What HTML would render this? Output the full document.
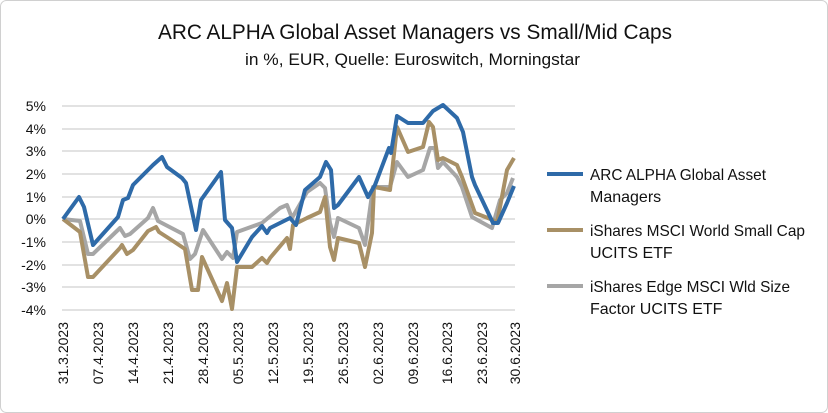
<!DOCTYPE html>
<html><head><meta charset="utf-8"><style>
body{margin:0;background:#fff}
svg{display:block;font-family:"Liberation Sans",sans-serif}
</style></head><body>
<svg width="828" height="413" viewBox="0 0 828 413">
<rect x="0.5" y="0.5" width="827" height="412" rx="6" fill="#fff" stroke="#d0d0d0"/>
<text x="158" y="39" font-size="21" fill="#111" textLength="514" lengthAdjust="spacingAndGlyphs">ARC ALPHA Global Asset Managers vs Small/Mid Caps</text>
<text x="245" y="65" font-size="17" fill="#111" textLength="335" lengthAdjust="spacingAndGlyphs">in %, EUR, Quelle: Euroswitch, Morningstar</text>
<g stroke="#d9d9d9" stroke-width="1.5">
<line x1="62" x2="515" y1="106" y2="106"/><line x1="62" x2="515" y1="129" y2="129"/>
<line x1="62" x2="515" y1="151" y2="151"/><line x1="62" x2="515" y1="174" y2="174"/>
<line x1="62" x2="515" y1="197" y2="197"/><line x1="62" x2="515" y1="219" y2="219"/>
<line x1="62" x2="515" y1="242" y2="242"/><line x1="62" x2="515" y1="265" y2="265"/>
<line x1="62" x2="515" y1="287" y2="287"/><line x1="62" x2="515" y1="310" y2="310"/>
</g>
<g font-size="14" fill="#111" text-anchor="end">
<text x="46" y="111">5%</text><text x="46" y="134">4%</text><text x="46" y="156">3%</text>
<text x="46" y="179">2%</text><text x="46" y="202">1%</text><text x="46" y="224">0%</text>
<text x="46" y="247">-1%</text><text x="46" y="270">-2%</text><text x="46" y="292">-3%</text>
<text x="46" y="315">-4%</text>
</g>
<g font-size="14" fill="#111" text-anchor="end">
<text transform="translate(68,322) rotate(-90)">31.3.2023</text>
<text transform="translate(103,322) rotate(-90)">07.4.2023</text>
<text transform="translate(138,322) rotate(-90)">14.4.2023</text>
<text transform="translate(173,322) rotate(-90)">21.4.2023</text>
<text transform="translate(208,322) rotate(-90)">28.4.2023</text>
<text transform="translate(243,322) rotate(-90)">05.5.2023</text>
<text transform="translate(278,322) rotate(-90)">12.5.2023</text>
<text transform="translate(313,322) rotate(-90)">19.5.2023</text>
<text transform="translate(348,322) rotate(-90)">26.5.2023</text>
<text transform="translate(383,322) rotate(-90)">02.6.2023</text>
<text transform="translate(418,322) rotate(-90)">09.6.2023</text>
<text transform="translate(452,322) rotate(-90)">16.6.2023</text>
<text transform="translate(487,322) rotate(-90)">23.6.2023</text>
<text transform="translate(520,322) rotate(-90)">30.6.2023</text>
</g>
<g fill="none" stroke-width="4" stroke-linejoin="round">
<polyline stroke="#a6a6a6" points="63,219 80,221 88,254 93,254 120,228 125,236 130,234 148,218 153,208 158,221 183,234 190,259 195,254 203,230 222,259 227,252 233,258 237,232 262,223 280,208 287,205 292,218 307,192 320,183 325,188 330,223 334,237 338,218 359,228 365,245 373,187 390,187 397,162 408,177 423,170 430,148 435,148 438,168 443,162 457,177 462,187 472,217 492,228 500,200 507,193 513,178"/>
<polyline stroke="#a89066" points="63,219 80,232 88,277 93,277 120,248 122,245 127,254 133,250 148,231 156,227 159,232 173,241 185,249 192,290 198,290 202,257 222,301 227,283 232,309 237,267 252,267 262,258 267,263 270,258 287,238 290,249 293,225 307,218 320,212 325,197 330,247 334,260 338,238 359,243 365,267 372,233 374,187 390,190 397,127 408,152 423,147 429,122 433,127 438,160 443,158 457,165 462,177 475,213 493,220 497,223 507,170 514,158"/>
<polyline stroke="#2e6aa8" points="63,219 79,197 84,207 93,245 118,217 123,200 128,198 133,185 148,170 153,165 162,157 167,167 182,178 186,183 196,230 201,200 221,172 225,220 232,228 237,262 252,237 262,226 267,233 270,228 280,223 290,218 296,225 305,190 320,177 326,162 331,170 334,208 338,205 359,177 368,197 375,185 389,148 391,153 397,116 408,123 423,123 433,111 443,105 457,118 463,132 472,177 475,185 493,223 498,223 507,203 514,186"/>
</g>
<g stroke-width="4">
<line x1="547" x2="583" y1="174" y2="174" stroke="#2e6aa8"/>
<line x1="547" x2="583" y1="230" y2="230" stroke="#a89066"/>
<line x1="547" x2="583" y1="286" y2="286" stroke="#a6a6a6"/>
</g>
<g font-size="16" fill="#111">
<text x="590" y="180" textLength="176" lengthAdjust="spacingAndGlyphs">ARC ALPHA Global Asset</text><text x="590" y="202">Managers</text>
<text x="590" y="236" textLength="215" lengthAdjust="spacingAndGlyphs">iShares MSCI World Small Cap</text><text x="590" y="258">UCITS ETF</text>
<text x="590" y="292" textLength="200" lengthAdjust="spacingAndGlyphs">iShares Edge MSCI Wld Size</text><text x="590" y="314">Factor UCITS ETF</text>
</g>
</svg>
</body></html>
